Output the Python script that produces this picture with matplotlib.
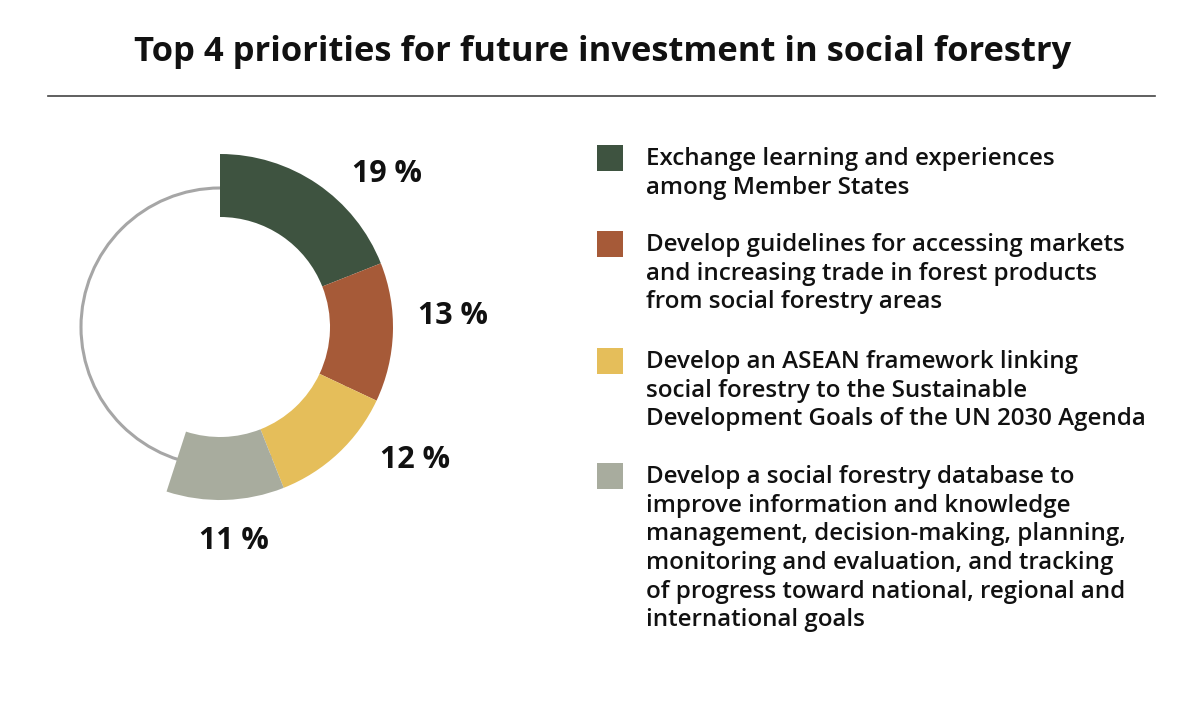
import matplotlib
matplotlib.use("Agg")
from matplotlib import pyplot as plt
from matplotlib.patches import Circle, Rectangle

plt.rcParams['font.family'] = ['Open Sans', 'DejaVu Sans']

# data
categories = [
    "Exchange learning and experiences\namong Member States",
    "Develop guidelines for accessing markets\nand increasing trade in forest products\nfrom social forestry areas",
    "Develop an ASEAN framework linking\nsocial forestry to the Sustainable\nDevelopment Goals of the UN 2030 Agenda",
    "Develop a social forestry database to\nimprove information and knowledge\nmanagement, decision-making, planning,\nmonitoring and evaluation, and tracking\nof progress toward national, regional and\ninternational goals",
]
values = [19, 13, 12, 11]
labels = ["19 %", "13 %", "12 %", "11 %"]
colors = ["#3E5340", "#A65A38", "#E5BE5A", "#A8AC9E"]

W, H = 1200, 703
fig = plt.figure(figsize=(12, 7.03), dpi=100)
fig.patch.set_facecolor("white")


def fx(x):
    return x / W


def fy(y):
    return 1 - y / H


# title and rule
fig.text(fx(603), fy(52), "Top 4 priorities for future investment in social forestry",
         ha="center", va="center", fontsize=24.8, fontweight="bold", color="#111111")
fig.add_artist(plt.Line2D([fx(48), fx(1155)], [fy(96), fy(96)], color="#444444", lw=1.2))

# donut, pixel coordinates
ax = fig.add_axes([0, 0, 1, 1])
ax.set_xlim(0, W)
ax.set_ylim(0, H)
ax.set_aspect("equal")
ax.axis("off")

cx, cy = 220, H - 327
ax.add_patch(Circle((cx, cy), 139, fill=False, ec="#A6A6A6", lw=2.2, zorder=1))
ax.pie([v / 100 for v in values], colors=colors, startangle=90, counterclock=False,
       normalize=False, radius=173, center=(cx, cy),
       wedgeprops=dict(width=63, linewidth=0, zorder=2))
ax.set_xlim(0, W)
ax.set_ylim(0, H)

# percentage labels
label_pos = [(387, 174), (453, 316), (415, 460), (234, 541)]
for (lx, ly), lab in zip(label_pos, labels):
    ax.text(lx, H - ly, lab, ha="center", va="center", fontsize=22,
            fontweight="bold", color="#111111")

# legend
item_top = [145, 231, 348, 463]
for top, col, txt in zip(item_top, colors, categories):
    fig.add_artist(Rectangle((fx(597), fy(top + 26)), fx(26), 26 / H,
                             facecolor=col, edgecolor="none", transform=fig.transFigure))
    fig.text(fx(646), fy(top + 2), txt, ha="left", va="top", fontsize=17.4,
             fontweight="semibold", color="#111111", linespacing=1.26)

fig.savefig("out.png", dpi=100, facecolor="white")
